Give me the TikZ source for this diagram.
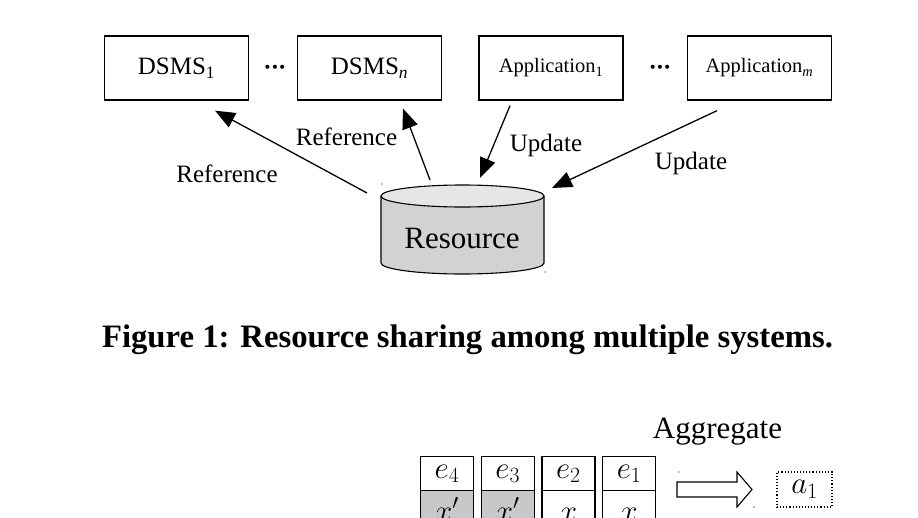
\RequirePackage{fix-cm}
\documentclass[tikz,border=0pt]{standalone}
\usepackage{fontspec}
\setmainfont{Liberation Serif}
\usetikzlibrary{math,arrows.meta}

\definecolor{cylgray}{HTML}{D2D2D2}
\definecolor{topgray}{HTML}{E6E6E6}
\definecolor{cellgray}{HTML}{C8C8C8}

\begin{document}
\begin{tikzpicture}[x=1pt,y=-1pt,
      box/.style={draw, line width=1.3pt, minimum width=144pt, minimum height=64pt, inner sep=0pt},
      marrow/.style={-{Triangle[length=20pt,width=16pt]}, line width=1.3pt},
      cell/.style={draw, line width=1.2pt, minimum width=53pt, minimum height=34pt, inner sep=0pt, anchor=north west},
      small/.style={font=\fontsize{20.5}{24}\selectfont},
      every node/.append style={font=\fontsize{25}{30}\selectfont}]
    \clip (0,0) rectangle (918,517);
    \fill[white] (0,0) rectangle (918,517);
    \tikzmath{
      \cylL=381; \cylR=544; \rx=(\cylR-\cylL)/2; \cx=\cylL+\rx;
      \cylT=196; \cylB=263; \ry=11;
    }
    % draw systems and applications
    \node[box] (dsms1) at (176.5,68) {DSMS\textsubscript{1}};
    \node[box] (dsmsn) at (369.5,68) {DSMS\textsubscript{\itshape n}};
    \node[box, small] (app1) at (551,68) {Application\textsubscript{1}};
    \node[box, small] (appm) at (759.5,68) {Application\textsubscript{\itshape m}};
    \node[font=\fontsize{25}{30}\selectfont\bfseries] (dots1) at (275,70)
        {\textperiodcentered\kern-1pt\textperiodcentered\kern-1pt\textperiodcentered};
    \node[font=\fontsize{25}{30}\selectfont\bfseries] (dots2) at (660,70)
        {\textperiodcentered\kern-1pt\textperiodcentered\kern-1pt\textperiodcentered};

    % draw resource cylinder
    \filldraw[fill=cylgray, line width=1.1pt] (\cylL,\cylT) -- (\cylL,\cylB)
        arc[start angle=180, end angle=0, x radius=\rx, y radius=\ry] -- (\cylR,\cylT);
    \filldraw[fill=topgray, line width=1.1pt] (\cx,\cylT) ellipse[x radius=\rx, y radius=\ry];
    \node[font=\fontsize{31}{36}\selectfont] (res) at (462,238) {Resource};
    \fill[gray] (382,184) circle[radius=0.9] (545,272) circle[radius=0.9];

    % draw arrows between resource and systems
    \coordinate (rs1) at ([shift={(-95,-45)}]res.center);
    \coordinate (rs2) at ([shift={(-32,-58)}]res.center);
    \coordinate (rs3) at ([shift={(18,-60)}]res.center);
    \coordinate (rs4) at ([shift={(90,-50)}]res.center);
    \coordinate (ref1) at ([shift={(38.5,10)}]dsms1.south);
    \coordinate (ref2) at ([shift={(33.5,8)}]dsmsn.south);
    \coordinate (upd1) at ([shift={(-41,5)}]app1.south);
    \coordinate (upd2) at ([shift={(-42.5,10)}]appm.south);
    \draw[marrow] (rs1) -- (ref1);
    \draw[marrow] (rs2) -- (ref2);
    \draw[marrow] (upd1) -- (rs3);
    \draw[marrow] (upd2) -- (rs4);
    \node (lref1) at (227,173.5) {Reference};
    \node (lref2) at (346.5,136.5) {Reference};
    \node (lupd1) at (546,145) {Update};
    \node (lupd2) at (691,163) {Update};

    \node[font=\fontsize{32.7}{38}\selectfont\bfseries, anchor=base] (caption) at (467.5,347)
        {Figure 1: Resource sharing among multiple systems.};

    % draw event cells and aggregate
    \foreach \lbl/\val/\shade [count=\i] in {4/x'/cellgray, 3/x'/cellgray, 2/x/white, 1/x/white} {
        \tikzmath{\x=420+(\i-1)*60.7;}
        \node[cell, fill=white] (e\i) at (\x,456) {};
        \node[cell, fill=\shade] (v\i) at (\x,490) {};
        \node[font=\fontsize{31}{36}\selectfont, anchor=base] (le\i) at (\x+27,478) {$e_{\lbl}$};
        \node[font=\fontsize{31}{36}\selectfont, anchor=base] (lv\i) at (\x+27,521) {$\val$};
    }
    \node[font=\fontsize{31}{36}\selectfont, anchor=base] (aggr) at (717.5,438) {Aggregate};
    \draw[line width=1.1pt, fill=white] (677,482) -- (737,482) -- (737,472) -- (752,489.5)
        -- (737,507) -- (737,497) -- (677,497) -- cycle;
    \fill[gray] (679,472) circle[radius=0.9] (754,507) circle[radius=0.9];
    \node[draw, dotted, line width=1.1pt, minimum width=55pt, minimum height=35pt, inner sep=0pt,
          font=\fontsize{31}{36}\selectfont] (a1) at (804.5,489.5) {$a_1$};
\end{tikzpicture}
\end{document}
